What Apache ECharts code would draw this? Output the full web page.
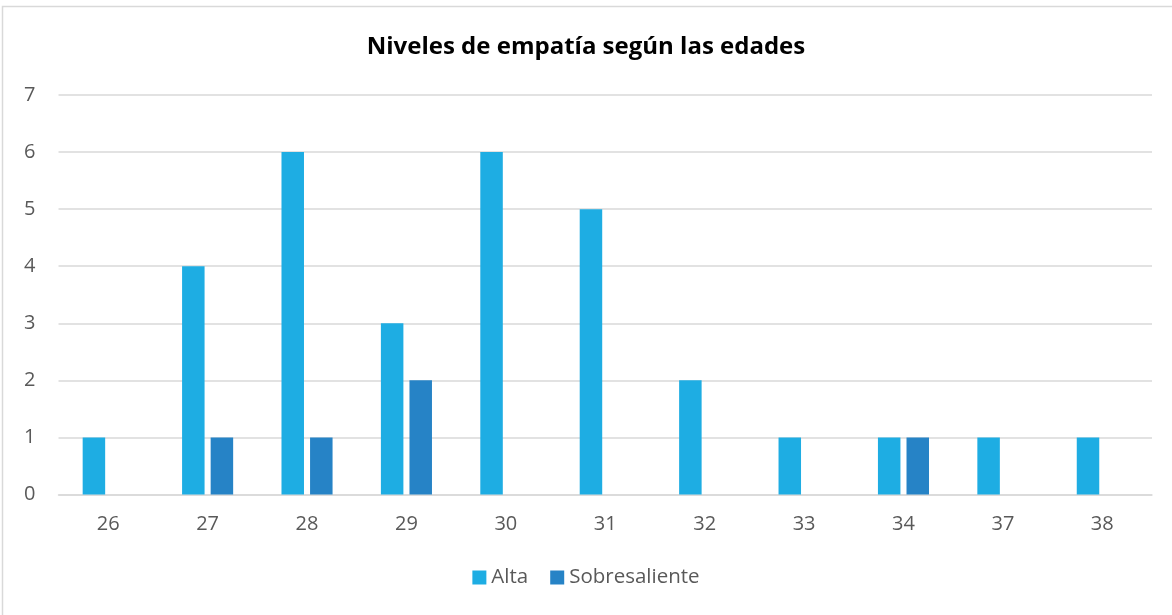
<!DOCTYPE html>
<html>
<head>
<meta charset="utf-8">
<script src="https://cdn.jsdelivr.net/npm/echarts@6/dist/echarts.min.js"></script>
<style>
  html, body { margin: 0; padding: 0; background: #fff; }
  #chart { width: 1172px; height: 615px; }
</style>
</head>
<body>
<div id="chart"></div>
<script>
// datos
var edades = ['26', '27', '28', '29', '30', '31', '32', '33', '34', '37', '38'];
var alta = [1, 4, 6, 3, 6, 5, 2, 1, 1, 1, 1];
var sobresaliente = [0, 1, 1, 2, 0, 0, 0, 0, 1, 0, 0];
var yTicks = [0, 1, 2, 3, 4, 5, 6, 7];

var fuente = '"Open Sans", "Noto Sans", sans-serif';
var myChart = echarts.init(document.getElementById('chart'));

var option = {
    animation: false,
    backgroundColor: '#fff',
    textStyle: { fontFamily: fuente },
    title: {
        text: 'Niveles de empatía según las edades',
        left: 'center',
        top: 30,
        textStyle: { fontSize: 24, fontWeight: 'bold', color: '#000', fontFamily: fuente }
    },
    legend: {
        bottom: 22,
        left: 'center',
        itemWidth: 14,
        itemHeight: 14,
        itemGap: 22,
        icon: 'rect',
        textStyle: { fontSize: 20.5, color: '#595959' },
        data: ['Alta', 'Sobresaliente']
    },
    grid: {
        left: 58.5,
        right: 20,
        top: 95,
        height: 399.5,
        containLabel: false
    },
    xAxis: {
        type: 'category',
        data: edades,
        axisTick: { show: false },
        axisLine: { lineStyle: { color: '#D9D9D9', width: 1.5 } },
        axisLabel: { fontSize: 20, color: '#595959', margin: 20 }
    },
    yAxis: {
        type: 'value',
        min: yTicks[0],
        max: yTicks[yTicks.length - 1],
        interval: 1,
        axisLine: { show: false },
        axisTick: { show: false },
        splitLine: { lineStyle: { color: '#D9D9D9', width: 1.5 } },
        axisLabel: { fontSize: 20, color: '#595959', margin: 23 }
    },
    series: [{
        name: 'Alta',
        type: 'bar',
        data: alta,
        barWidth: 22.5,
        barGap: '27%',
        itemStyle: { color: '#1EADE3' }
    }, {
        name: 'Sobresaliente',
        type: 'bar',
        data: sobresaliente,
        barWidth: 22.5,
        itemStyle: { color: '#2683C6' }
    }],
    graphic: [{
        type: 'polyline',
        silent: true,
        shape: { points: [[2.5, 620], [2.5, 6.5], [1180, 6.5]] },
        style: { stroke: '#D9D9D9', lineWidth: 1.5, fill: null }
    }]
};

myChart.setOption(option);
</script>
</body>
</html>
